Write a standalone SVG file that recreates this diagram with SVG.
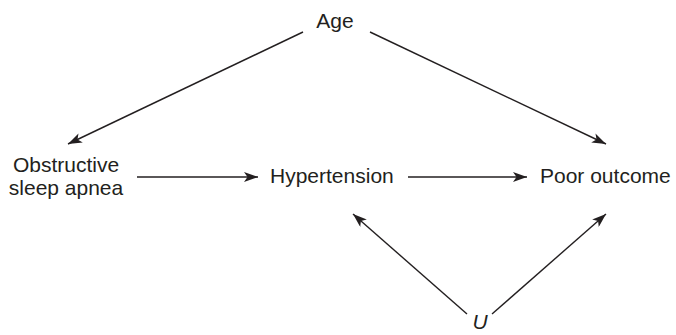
<svg xmlns="http://www.w3.org/2000/svg" width="676" height="335" viewBox="0 0 676 335">
<defs>
<style>
text{font-family:"Liberation Sans",Arial,sans-serif;font-size:21px;fill:#231f20}
.e{stroke:#231f20;stroke-width:1.4;fill:none;marker-end:url(#ah)}
</style>
<marker id="ah" markerUnits="userSpaceOnUse" viewBox="0 0 14 10" refX="14" refY="5" markerWidth="14" markerHeight="10" orient="auto">
<path d="M0,0 L14,5 L0,10 L3.5,5 Z" fill="#231f20"/>
</marker>
</defs>
<rect width="676" height="335" fill="#fff"/>
<g id="connectors">
<line class="e" x1="303" y1="32" x2="68" y2="144"/>
<line class="e" x1="370" y1="32" x2="606" y2="144"/>
<line class="e" x1="137" y1="177" x2="258" y2="177"/>
<line class="e" x1="408" y1="177" x2="527" y2="177"/>
<line class="e" x1="467" y1="314" x2="353" y2="214"/>
<line class="e" x1="492" y1="314" x2="606" y2="214"/>
</g>
<g id="age"><text x="335" y="28" text-anchor="middle">Age</text></g>
<g id="osa"><text x="66" y="172" text-anchor="middle">Obstructive</text><text x="66" y="195" text-anchor="middle">sleep apnea</text></g>
<g id="hypertension"><text x="270" y="183">Hypertension</text></g>
<g id="outcome"><text x="540" y="183">Poor outcome</text></g>
<g id="u"><text x="480" y="329" text-anchor="middle" font-style="italic">U</text></g>
</svg>
